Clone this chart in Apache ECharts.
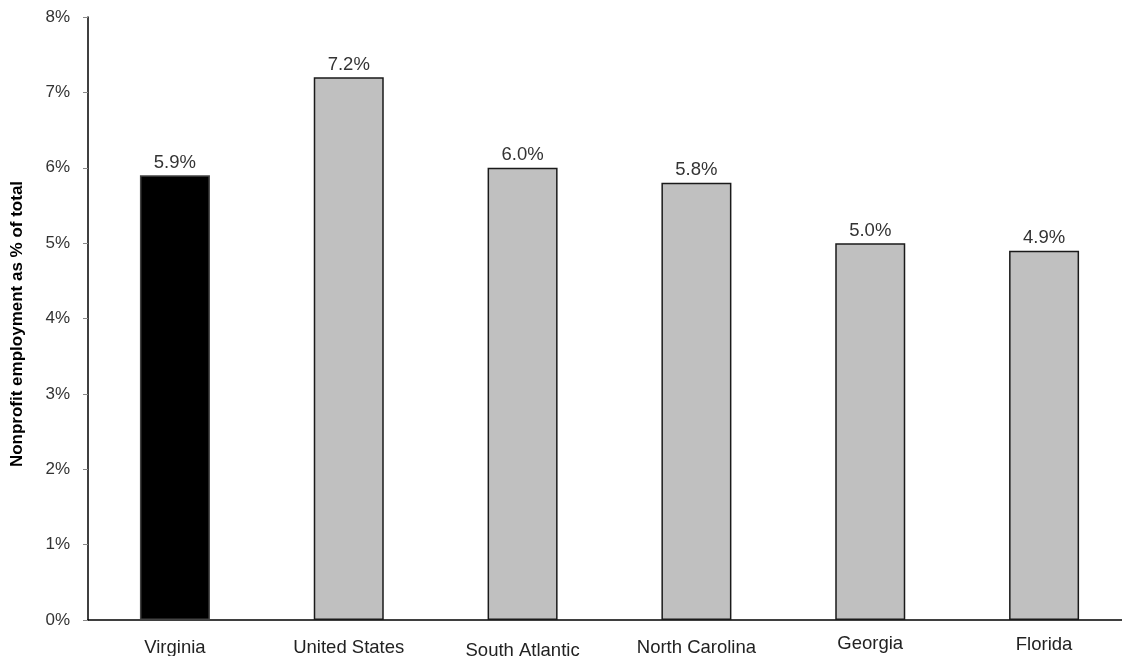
<!DOCTYPE html>
<html>
<head>
<meta charset="utf-8">
<script src="https://cdn.jsdelivr.net/npm/echarts@6/dist/echarts.min.js"></script>
<style>
  html, body { margin: 0; padding: 0; background: #fff; overflow: hidden; }
  #chart { width: 1122px; height: 656px; overflow: hidden; position: relative; }
</style>
</head>
<body>
<div id="chart"></div>
<script>
// Nonprofit employment share by geography
var categories = ['Virginia', 'United States', 'South Atlantic', 'North Carolina', 'Georgia', 'Florida'];
var values = [5.9, 7.2, 6.0, 5.8, 5.0, 4.9];
var highlight = 'Virginia';

// small per-label vertical nudges (px) for the category captions
var labelNudge = { 'South Atlantic': 3, 'Georgia': -4, 'Florida': -3 };

var font = '"Liberation Sans", Arial, sans-serif';
var baseTop = 4;

// one rich style per category so each caption can sit at its own height
var catRich = {};
categories.forEach(function (c, i) {
  catRich['c' + i] = {
    fontFamily: font,
    fontSize: 18.5,
    color: '#222',
    padding: [baseTop + (labelNudge[c] || 0), 0, 0, 0]
  };
});

var chart = echarts.init(document.getElementById('chart'));

chart.setOption({
  animation: false,
  grid: {
    left: 88, right: -9, top: 17, bottom: 36,
    containLabel: false,
    outerBoundsMode: 'none'
  },
  xAxis: {
    type: 'category',
    data: categories,
    axisLine: { lineStyle: { color: '#000', width: 1.5 } },
    axisTick: { show: false },
    axisLabel: {
      interval: 0,
      color: '#222',
      fontFamily: font,
      fontSize: 18.5,
      margin: 14,
      formatter: function (v) {
        return '{c' + categories.indexOf(v) + '|' + v + '}';
      },
      rich: catRich
    }
  },
  yAxis: {
    type: 'value',
    min: 0,
    max: 8,
    interval: 1,
    name: 'Nonprofit employment as % of total',
    nameLocation: 'middle',
    nameGap: 62,
    nameTextStyle: {
      fontFamily: font,
      fontSize: 17,
      fontWeight: 'bold',
      color: '#000',
      padding: [0, 11, 0, 0]
    },
    axisLine: { show: true, lineStyle: { color: '#000', width: 1.5 } },
    axisTick: { show: true, length: 5, lineStyle: { color: '#888' } },
    splitLine: { show: false },
    axisLabel: {
      color: '#333',
      fontFamily: font,
      fontSize: 17,
      margin: 18,
      padding: [3, 0, 0, 0],
      formatter: '{value}%'
    }
  },
  series: [{
    type: 'bar',
    barWidth: 70,
    data: values.map(function (v, i) {
      var hot = categories[i] === highlight;
      return {
        value: v,
        itemStyle: {
          color: hot ? '#000' : '#c0c0c0',
          borderColor: hot ? '#444' : '#1a1a1a',
          borderWidth: 1.5
        }
      };
    }),
    label: {
      show: true,
      position: 'top',
      distance: 3,
      color: '#333',
      fontFamily: font,
      fontSize: 18.5,
      formatter: function (p) { return p.value.toFixed(1) + '%'; }
    }
  }]
});
</script>
</body>
</html>
